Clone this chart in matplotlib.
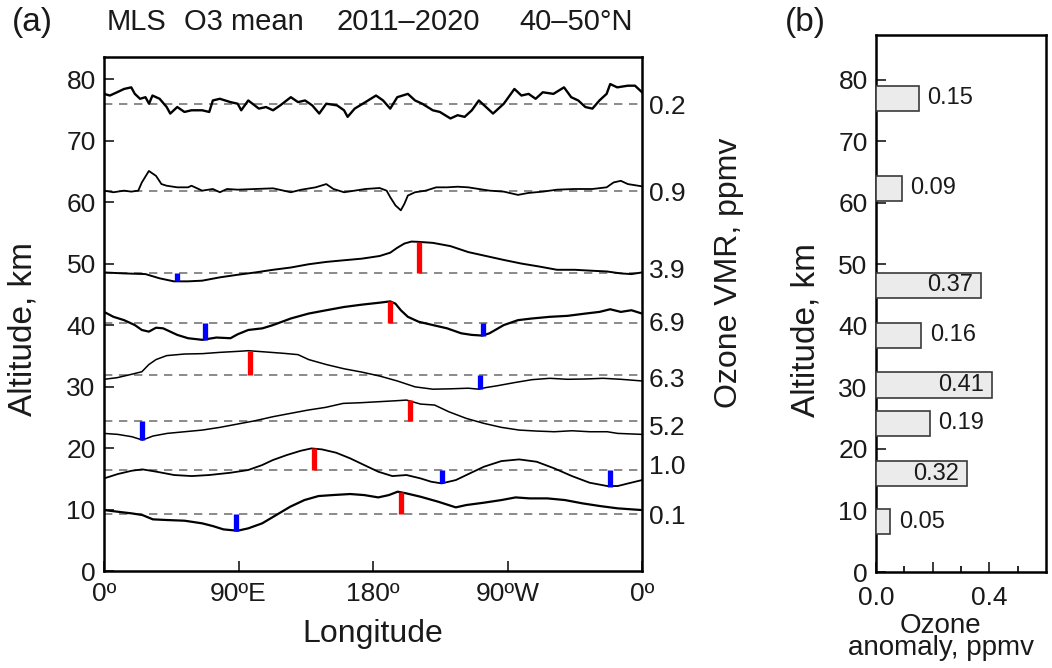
import matplotlib
matplotlib.use("Agg")
import matplotlib.pyplot as plt

plt.rcParams["font.family"] = ["Liberation Sans", "DejaVu Sans"]

# ---- panel (a): mean ozone vs longitude, each level drawn around its dashed baseline (km)
levels = [9.2, 16.4, 24.4, 31.9, 40.4, 48.5, 61.8, 76.0]
vmr_labels = ["0.1", "1.0", "5.2", "6.3", "6.9", "3.9", "0.9", "0.2"]
vmr_label_pos = [9.2, 17.3, 23.6, 31.4, 40.5, 49.2, 61.8, 75.8]

curve_76 = [(0, 77.60), (3.9, 77.33), (8.7, 77.86), (13.4, 78.40), (18.2, 78.66), (20.6, 77.60),
            (24.1, 76.80), (27.7, 77.06), (30.1, 76.00), (32.4, 77.33), (37.2, 76.80), (41.9, 75.46),
            (44.3, 74.40), (49.0, 75.46), (53.8, 74.66), (58.5, 74.93), (65.7, 74.93), (70.4, 74.66),
            (72.8, 76.53), (77.5, 76.80), (84.6, 76.26), (89.4, 76.00), (91.8, 74.93), (96.5, 76.53),
            (103.6, 75.20), (108.4, 75.46), (113.1, 74.93), (117.9, 75.73), (125.0, 77.06), (129.8, 76.26),
            (134.5, 76.53), (139.3, 75.73), (144.0, 74.40), (148.7, 76.00), (155.9, 75.73), (160.6, 74.93),
            (163.0, 73.86), (167.7, 75.20), (174.9, 76.26), (182.0, 77.33), (186.7, 76.53), (191.5, 75.20),
            (196.2, 77.06), (203.3, 77.60), (208.1, 76.53), (212.9, 76.00), (220.0, 74.93), (224.7, 74.66),
            (231.8, 73.60), (236.6, 74.13), (241.3, 73.86), (246.1, 74.93), (250.8, 76.53), (255.6, 75.46),
            (260.3, 74.40), (267.5, 76.00), (274.6, 78.40), (279.3, 77.33), (284.1, 77.60), (288.8, 76.80),
            (293.6, 77.86), (300.7, 77.60), (307.8, 78.66), (312.6, 77.06), (317.3, 76.53), (322.1, 75.46),
            (326.8, 75.20), (331.5, 76.53), (336.3, 77.60), (338.7, 79.20), (343.4, 78.66), (350.5, 78.93),
            (355.3, 78.93), (360, 77.86)]

curve_62 = [(0, 61.86), (6.3, 61.60), (13.4, 61.86), (18.2, 61.70), (22.9, 61.86), (25.3, 63.20),
            (30.0, 65.06), (34.8, 64.26), (38.4, 62.93), (41.9, 62.66), (49.0, 62.40), (56.2, 62.40),
            (58.5, 62.66), (65.7, 61.86), (72.8, 62.13), (77.5, 61.60), (82.3, 62.13), (89.4, 62.02),
            (101.3, 62.13), (113.1, 62.24), (125.0, 61.60), (132.1, 62.02), (141.6, 62.40), (148.7, 62.93),
            (153.5, 62.13), (160.6, 61.60), (167.7, 61.86), (174.9, 62.13), (184.4, 62.29), (189.1, 61.86),
            (191.5, 60.80), (195.0, 59.46), (198.6, 58.66), (201.0, 59.73), (203.3, 61.06), (208.1, 61.60),
            (215.2, 61.86), (222.3, 62.40), (229.5, 62.40), (236.6, 62.50), (243.7, 62.40), (250.8, 62.13),
            (258.0, 61.86), (267.5, 61.70), (277.0, 61.17), (284.1, 61.49), (293.6, 61.70), (303.1, 62.02),
            (314.9, 62.13), (326.8, 62.13), (336.3, 62.40), (341.0, 63.20), (345.8, 63.46), (350.5, 62.93),
            (360, 62.56)]

curve_48 = [(0, 48.56), (13.4, 48.40), (27.7, 48.29), (37.2, 47.60), (46.7, 47.11), (56.2, 47.11),
            (65.7, 47.22), (77.5, 47.76), (89.4, 48.18), (101.3, 48.56), (113.1, 48.99), (125.0, 49.36),
            (136.9, 49.89), (148.7, 50.27), (160.6, 50.54), (172.5, 50.80), (184.4, 51.23), (191.5, 51.77),
            (196.2, 52.57), (201.0, 53.26), (205.7, 53.58), (210.5, 53.53), (220.0, 53.37), (231.8, 52.84),
            (243.7, 51.87), (255.6, 51.23), (267.5, 50.59), (279.3, 50.00), (291.2, 49.52), (303.1, 48.99),
            (315.0, 48.99), (326.8, 48.83), (336.3, 48.72), (345.8, 48.40), (352.9, 48.29), (360, 48.56)]

curve_40 = [(0, 42.14), (6.3, 41.34), (13.4, 40.80), (20.6, 40.00), (25.3, 39.20), (30.0, 38.93),
            (34.8, 39.57), (39.5, 39.47), (44.3, 38.93), (49.0, 38.40), (56.2, 37.86), (65.7, 37.60),
            (75.2, 37.97), (84.6, 37.86), (89.4, 38.50), (96.5, 39.20), (106.0, 39.47), (113.1, 40.00),
            (125.0, 41.07), (136.9, 41.87), (148.7, 42.41), (160.6, 42.94), (172.5, 43.32), (184.4, 43.64),
            (191.5, 43.85), (195.0, 43.48), (198.6, 42.41), (203.3, 41.34), (210.5, 40.54), (220.0, 40.00),
            (229.5, 39.47), (239.0, 38.66), (246.1, 38.40), (253.2, 38.29), (257.9, 38.66), (267.5, 40.00),
            (277.0, 40.80), (286.4, 41.07), (298.3, 41.34), (310.2, 41.50), (322.1, 41.87), (331.5, 42.14),
            (338.7, 42.57), (345.8, 42.14), (352.9, 42.41), (360, 41.87)]

curve_32 = [(0, 31.18), (8.7, 31.44), (18.2, 31.98), (25.3, 32.41), (30.0, 33.58), (34.8, 34.39),
            (41.9, 35.03), (53.8, 35.29), (65.7, 35.35), (77.5, 35.56), (89.4, 35.72), (96.5, 35.83),
            (108.4, 35.62), (120.3, 35.40), (129.8, 35.19), (136.9, 34.39), (148.7, 33.58), (160.6, 32.89),
            (172.5, 32.35), (184.4, 31.71), (196.2, 30.91), (208.1, 29.95), (220.0, 29.57), (231.8, 29.63),
            (243.7, 29.73), (250.8, 29.57), (255.6, 29.84), (262.7, 30.11), (274.6, 30.64), (286.4, 31.12),
            (298.3, 31.34), (310.2, 31.18), (322.1, 31.23), (333.9, 31.34), (345.8, 31.18), (360, 30.91)]

curve_24 = [(0, 22.38), (9.2, 22.22), (18.6, 21.84), (25.7, 21.30), (32.7, 21.95), (42.2, 22.38),
            (53.9, 22.65), (65.7, 22.92), (77.5, 23.36), (89.3, 23.90), (101.1, 24.44), (112.9, 25.09),
            (124.6, 25.63), (136.4, 26.17), (148.2, 26.61), (160.0, 27.26), (171.7, 27.37), (183.5, 27.53),
            (195.3, 27.69), (202.4, 27.80), (211.8, 27.15), (221.2, 26.99), (230.7, 25.90), (242.4, 24.82),
            (254.2, 24.01), (265.9, 23.36), (277.8, 22.92), (289.5, 22.76), (301.3, 22.65), (313.1, 22.81),
            (324.9, 22.65), (336.7, 22.65), (343.7, 22.38), (360, 22.22)]

curve_16 = [(0, 15.06), (9.2, 15.77), (18.6, 16.31), (25.7, 16.53), (35.1, 16.15), (46.9, 15.61),
            (58.7, 15.44), (70.4, 15.61), (84.6, 15.98), (96.4, 16.42), (105.8, 17.23), (112.9, 18.04),
            (122.3, 18.86), (131.7, 19.56), (138.8, 19.94), (145.8, 19.78), (155.3, 19.24), (164.7, 18.32),
            (174.1, 17.23), (183.5, 16.15), (192.9, 15.44), (202.4, 15.61), (211.8, 15.06), (218.9, 14.52),
            (225.9, 14.25), (235.4, 14.79), (244.8, 15.88), (254.2, 16.96), (265.9, 17.88), (277.8, 18.15),
            (289.5, 17.77), (301.3, 16.69), (313.1, 15.44), (324.9, 14.36), (336.7, 13.82), (343.7, 13.82),
            (350.8, 14.25), (360, 14.79)]

curve_9 = [(0, 9.91), (9.2, 9.64), (18.6, 9.37), (25.7, 9.10), (32.7, 8.40), (42.2, 8.29),
           (53.9, 8.18), (65.7, 7.75), (72.8, 7.31), (79.9, 6.77), (89.3, 6.55), (96.4, 6.93),
           (105.8, 7.75), (115.2, 9.10), (124.6, 10.46), (134.1, 11.54), (143.5, 12.19), (152.9, 12.35),
           (164.7, 12.52), (174.1, 12.35), (183.5, 11.97), (190.6, 12.35), (196.5, 12.90), (202.4, 12.62),
           (211.8, 12.08), (223.6, 11.27), (235.4, 10.35), (242.4, 10.73), (254.2, 11.11), (265.9, 11.54),
           (275.4, 11.97), (284.8, 11.81), (296.6, 11.81), (308.4, 11.54), (320.2, 11.00), (332.0, 10.56),
           (343.7, 10.19), (360, 9.91)]

curves = [curve_9, curve_16, curve_24, curve_32, curve_40, curve_48, curve_62, curve_76]
curve_lw = [1.6, 1.3, 1.1, 1.1, 1.6, 1.4, 1.3, 1.7]

# extremes marked with bars from baseline: (level index, longitude, curve value)
max_marks = [(0, 198.8, 12.90), (1, 140.4, 19.94), (2, 204.7, 27.80), (3, 97.7, 35.83),
             (4, 191.5, 43.85), (5, 210.5, 53.53)]
min_marks = [(0, 88.6, 6.55), (1, 225.9, 14.25), (1, 338.3, 13.71), (2, 25.7, 21.30),
             (3, 251.3, 29.57), (4, 67.3, 37.60), (4, 253.7, 38.29), (5, 49.0, 47.11)]

# ---- panel (b): ozone anomaly per level
bar_alt = [8.2, 16.0, 24.2, 30.4, 38.5, 46.6, 62.4, 77.0]
bar_val = [0.05, 0.32, 0.19, 0.41, 0.16, 0.37, 0.09, 0.15]
label_inside = [False, True, False, True, False, True, False, False]

title_parts = ["MLS", "O3 mean", "2011–2020", "40–50°N"]

txt = "#1a1a1a"
fig = plt.figure(figsize=(10.52, 6.68), dpi=100)
ax = fig.add_axes([0.0989, 0.1452, 0.5114, 0.7695])

for lev in levels:
    ax.axhline(lev, color="#777777", lw=1.2, ls=(0, (5, 4)), zorder=1)
for pts, lw in zip(curves, curve_lw):
    lon, alt = zip(*pts)
    ax.plot(lon, alt, color="black", lw=lw, zorder=3)
for i, lon, val in max_marks:
    ax.vlines(lon, levels[i], val, color="#ff0000", lw=3.8, zorder=4)
for i, lon, val in min_marks:
    ax.vlines(lon, levels[i], val, color="#0000ff", lw=3.8, zorder=4)

ax.set_xlim(0, 360)
ax.set_ylim(0, 83.6)
ax.set_xticks([0, 90, 180, 270, 360])
ax.set_xticklabels(["0º", "90ºE", "180º", "90ºW", "0º"])
ax.set_yticks(range(0, 81, 10))
ax.tick_params(direction="in", length=7, width=1.2, labelsize=19, colors=txt, pad=6)
ax.tick_params(axis="x", pad=8)
for s in ax.spines.values():
    s.set_linewidth(1.8)
ax.set_xlabel("Longitude", fontsize=23, color=txt, labelpad=9)
ax.set_ylabel("Altitude, km", fontsize=24, color=txt)
ax.yaxis.set_label_coords(-0.122, 0.47)

axr = ax.twinx()
axr.set_ylim(ax.get_ylim())
axr.set_yticks(vmr_label_pos)
axr.set_yticklabels(vmr_labels)
axr.tick_params(length=0, labelsize=19, colors=txt, pad=5)
axr.set_ylabel("Ozone VMR, ppmv", fontsize=23, color=txt)
axr.yaxis.set_label_coords(1.133, 0.58)
for s in axr.spines.values():
    s.set_visible(False)

fig.text(0.011, 0.967, "(a)", fontsize=24, color=txt, va="center")
for part, xpx in zip(title_parts, [107, 184, 336, 519]):
    fig.text(xpx / 1052, 0.967, part, fontsize=21, color=txt, va="center")

# panel (b)
bx = fig.add_axes([0.8327, 0.1437, 0.1616, 0.8039])
bx.barh(bar_alt, bar_val, height=4.1, color="#ebebeb", edgecolor="#3a3a3a", lw=1.2, zorder=3)
for y, v, inside in zip(bar_alt, bar_val, label_inside):
    if inside:
        bx.text(v - 0.028, y, f"{v:.2f}", ha="right", va="center", fontsize=17, color=txt, zorder=4)
    else:
        bx.text(v + 0.03, y, f"{v:.2f}", ha="left", va="center", fontsize=17, color=txt, zorder=4)
bx.set_xlim(0, 0.6)
bx.set_ylim(0, 87.3)
bx.set_yticks(range(0, 81, 10))
bx.set_xticks([0, 0.2, 0.4])
bx.set_xticklabels(["0.0", "", "0.4"])
bx.set_xticks([0.1, 0.3, 0.5], minor=True)
bx.tick_params(direction="in", length=7, width=1.2, labelsize=19, colors=txt, pad=6)
bx.tick_params(axis="x", which="minor", direction="in", length=4, width=1.2)
bx.tick_params(axis="x", pad=10)
for s in bx.spines.values():
    s.set_linewidth(1.8)
bx.set_ylabel("Altitude, km", fontsize=24, color=txt)
bx.yaxis.set_label_coords(-0.32, 0.45)
bx.set_xlabel("Ozone\nanomaly, ppmv", fontsize=20, color=txt, linespacing=0.8)
bx.xaxis.set_label_coords(0.38, -0.076)
bx.xaxis.label.set_va("top")
fig.text(0.746, 0.967, "(b)", fontsize=24, color=txt, va="center")

fig.savefig("out.png", dpi=100)
